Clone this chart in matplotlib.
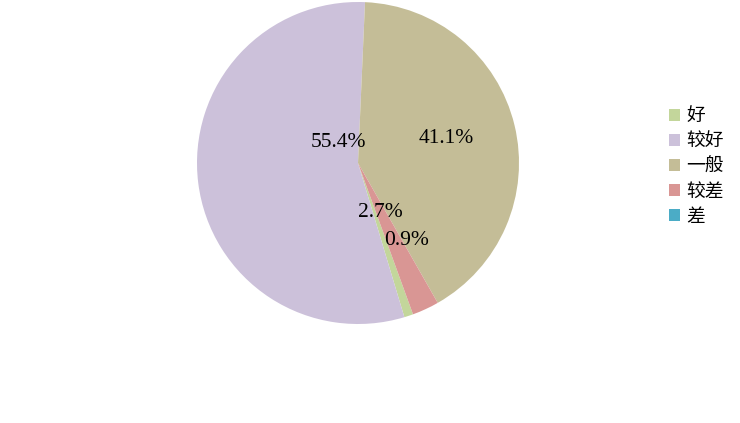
import matplotlib
matplotlib.use("Agg")
import matplotlib.pyplot as plt
import numpy as np

categories = ["好", "较好", "一般", "较差", "差"]
values = [0.9, 55.4, 41.1, 2.7, 0.0]
colors = ["#c3d69b", "#ccc1da", "#c4bd97", "#d99694", "#4bacc6"]
pct_labels = ["0.9%", "55.4%", "41.1%", "2.7%", ""]

plt.rcParams['font.family'] = ['Noto Sans CJK SC', 'DejaVu Sans']

fig = plt.figure(figsize=(7.4, 4.23), dpi=100)
ax = fig.add_axes([197/740, 1 - 324/423, 322/740, 322/423])

total = sum(values)
# start so that "一般" begins slightly right of 12 o'clock, going clockwise
start = 87.5 + (values[0] + values[1]) / total * 360
wedges, _ = ax.pie(values, colors=colors, startangle=start, counterclock=False,
                   radius=1.0, wedgeprops=dict(linewidth=0))
ax.set_xlim(-1, 1)
ax.set_ylim(-1, 1)
ax.set_aspect('equal')

# label positions (relative to pie radius) as seen in the reference
label_pos = [(0.30, -0.48), (-0.12, 0.13), (0.55, 0.15), (0.14, -0.31), None]
for lab, pos in zip(pct_labels, label_pos):
    if pos is None or not lab:
        continue
    ax.text(pos[0], pos[1], lab, ha='center', va='center', fontsize=15.5,
            family=['Liberation Serif', 'DejaVu Serif'], color='black')

leg = fig.legend(wedges, categories, loc='center left',
                 bbox_to_anchor=(661/740, 1 - 166/423), frameon=False,
                 fontsize=13.5, handlelength=0.6, handleheight=0.6,
                 handletextpad=0.35, labelspacing=0.22, borderaxespad=0)

fig.savefig("out.png", dpi=100)
